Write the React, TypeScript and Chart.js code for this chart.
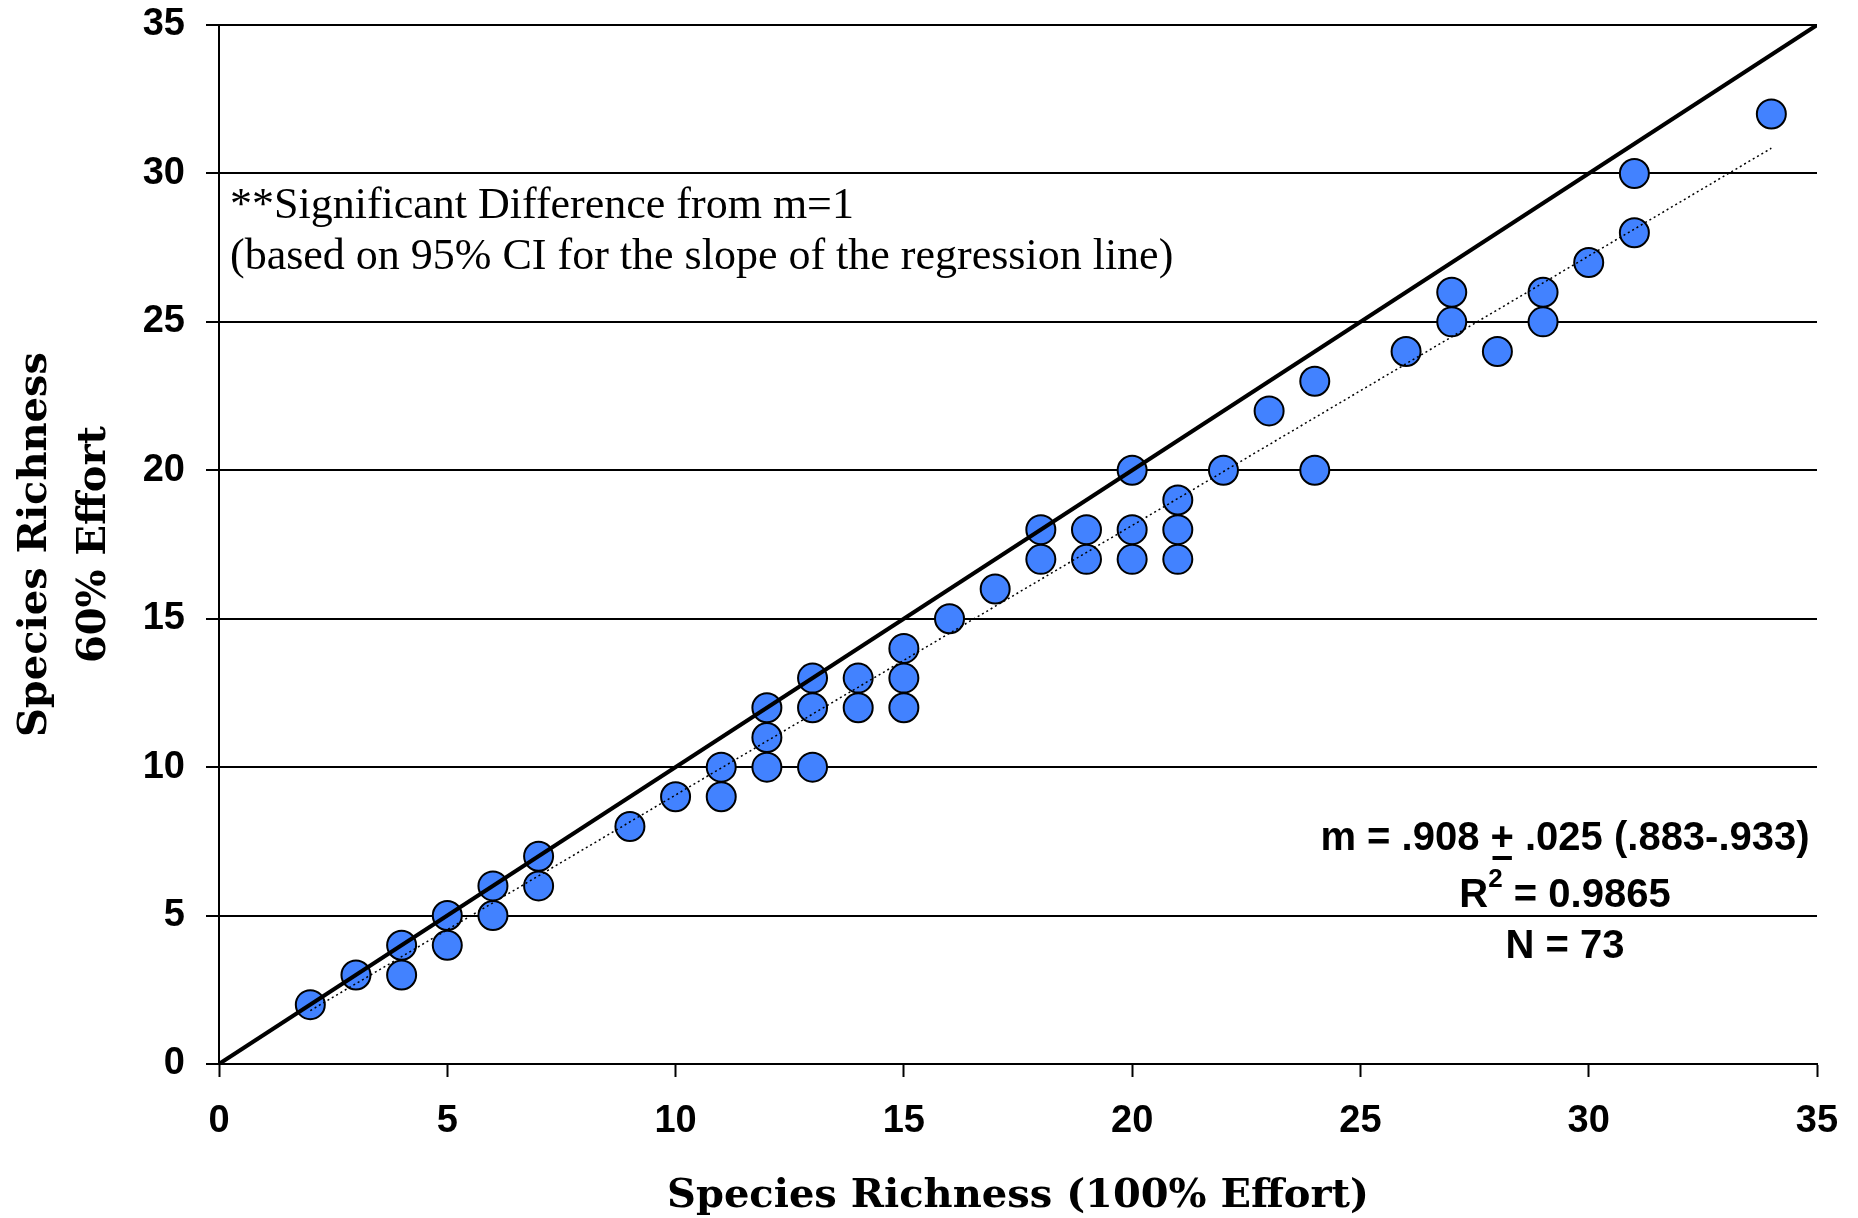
import React, { useEffect, useRef } from 'react';
import { Chart, registerables } from 'chart.js';

Chart.register(...registerables);

// Species richness at 100% effort (x) and 60% effort (y)
const richness100 = [2, 3, 4, 4, 5, 5, 6, 6, 7, 7, 9, 10, 11, 11, 12, 12, 12, 13, 13, 13, 14, 14, 15, 15, 15, 16, 17, 18, 18, 19, 19, 20, 20, 20, 21, 21, 21, 22, 23, 24, 24, 26, 27, 27, 28, 29, 29, 30, 31, 31, 34];
const richness60 = [2, 3, 4, 3, 5, 4, 6, 5, 7, 6, 8, 9, 10, 9, 12, 11, 10, 13, 12, 10, 13, 12, 14, 13, 12, 15, 16, 18, 17, 18, 17, 20, 18, 17, 19, 18, 17, 20, 22, 23, 20, 24, 26, 25, 24, 26, 25, 27, 30, 28, 32];

// 1:1 reference line
const identityX = [0, 35];
const identityY = [0, 35];

// Regression line endpoints
const regressionX = [2, 34];
const regressionY = [1.8, 30.85];

const axisMin = 0;
const axisMax = 35;
const tickStep = 5;

const xTitle = 'Species Richness (100% Effort)';
const yTitle = ['Species Richness', '60% Effort'];
const noteLines = ['**Significant Difference from m=1', '(based on 95% CI for the slope of the regression line)'];
const slopeParts = ['m = .908 ', '+', ' .025 (.883-.933)'];
const r2Parts = ['R', '2', ' = 0.9865'];
const nLine = 'N = 73';

const SANS = "'Liberation Sans', Arial, sans-serif";
const SERIF = "'Liberation Serif', 'Times New Roman', serif";
const SERIF_BOLD = "'DejaVu Serif', serif";

const annotationPlugin = {
  id: 'textAnnotations',
  afterDatasetsDraw(chart: any) {
    const { ctx, chartArea } = chart;
    ctx.save();
    ctx.fillStyle = '#000';
    ctx.strokeStyle = '#000';
    ctx.textBaseline = 'alphabetic';
    ctx.textAlign = 'left';

    // Note lines (top-left)
    ctx.font = `44px ${SERIF}`;
    const nx = chartArea.left + 11;
    ctx.fillText(noteLines[0], nx, 218);
    ctx.fillText(noteLines[1], nx, 269);

    // Stats block (bottom-right), centred on a common x
    const cx = 1565;
    ctx.font = `bold 40px ${SANS}`;
    const w0 = ctx.measureText(slopeParts[0]).width;
    const w1 = ctx.measureText(slopeParts[1]).width;
    const w2 = ctx.measureText(slopeParts[2]).width;
    const sx = cx - (w0 + w1 + w2) / 2;
    const b1 = 850;
    ctx.fillText(slopeParts[0], sx, b1);
    ctx.fillText(slopeParts[1], sx + w0, b1);
    ctx.fillRect(sx + w0 + 2, b1 + 6, w1 - 4, 4);
    ctx.fillText(slopeParts[2], sx + w0 + w1, b1);

    // R^2 line
    const b2 = 907;
    ctx.font = `bold 40px ${SANS}`;
    const rw = ctx.measureText(r2Parts[0]).width;
    const tw = ctx.measureText(r2Parts[2]).width;
    ctx.font = `bold 26px ${SANS}`;
    const supW = ctx.measureText(r2Parts[1]).width;
    const rx = cx - (rw + supW + tw) / 2;
    ctx.font = `bold 40px ${SANS}`;
    ctx.fillText(r2Parts[0], rx, b2);
    ctx.font = `bold 26px ${SANS}`;
    ctx.fillText(r2Parts[1], rx + rw, b2 - 20);
    ctx.font = `bold 40px ${SANS}`;
    ctx.fillText(r2Parts[2], rx + rw + supW, b2);

    // N line
    ctx.textAlign = 'center';
    ctx.fillText(nLine, cx, 958);
    ctx.restore();
  },
};

export default function App() {
  const canvasRef = useRef<HTMLCanvasElement | null>(null);

  useEffect(() => {
    const canvas = canvasRef.current;
    if (!canvas) return;

    const points = richness100.map((x, i) => ({ x, y: richness60[i] }));
    const identity = identityX.map((x, i) => ({ x, y: identityY[i] }));
    const regression = regressionX.map((x, i) => ({ x, y: regressionY[i] }));

    const tickFont = { family: SANS, size: 38, weight: 'bold' as const };

    const chart = new Chart(canvas, {
      type: 'scatter',
      data: {
        datasets: [
          {
            label: '1:1',
            data: identity,
            showLine: true,
            borderColor: '#000',
            borderWidth: 4,
            pointRadius: 0,
            pointHoverRadius: 0,
            order: 1,
          },
          {
            label: 'Regression',
            data: regression,
            showLine: true,
            borderColor: '#000',
            borderWidth: 1.5,
            borderDash: [2, 3],
            pointRadius: 0,
            pointHoverRadius: 0,
            order: 2,
          },
          {
            label: 'Sites',
            data: points,
            showLine: false,
            pointRadius: 14.5,
            pointHoverRadius: 14.5,
            pointBackgroundColor: '#4282ff',
            pointBorderColor: '#000',
            pointBorderWidth: 2,
            order: 3,
          },
        ],
      },
      options: {
        responsive: false,
        animation: false,
        devicePixelRatio: 1,
        layout: { padding: { top: 25, right: 41, bottom: 0, left: 0 } },
        plugins: {
          legend: { display: false },
          tooltip: { enabled: false },
        },
        scales: {
          x: {
            type: 'linear',
            min: axisMin,
            max: axisMax,
            ticks: { stepSize: tickStep, font: tickFont, color: '#000', padding: 22 },
            grid: {
              drawOnChartArea: false,
              drawTicks: true,
              tickLength: 13,
              tickColor: '#000',
              tickWidth: 2,
            },
            border: { display: true, color: '#000', width: 2 },
            title: {
              display: true,
              text: xTitle,
              color: '#000',
              font: { family: SERIF_BOLD, size: 40, weight: 'bold', lineHeight: 1.0 },
              padding: { top: 0, bottom: 1 },
            },
            afterFit: (scale: any) => {
              scale.height = 154;
              scale.paddingLeft = 0;
              scale.paddingRight = 0;
            },
          },
          y: {
            type: 'linear',
            min: axisMin,
            max: axisMax,
            ticks: { stepSize: tickStep, font: tickFont, color: '#000', padding: 21 },
            grid: {
              drawOnChartArea: true,
              color: '#000',
              lineWidth: 2,
              drawTicks: true,
              tickLength: 13,
              tickColor: '#000',
              tickWidth: 2,
            },
            border: { display: true, color: '#000', width: 2 },
            title: {
              display: true,
              text: yTitle,
              color: '#000',
              font: { family: SERIF_BOLD, size: 40, weight: 'bold', lineHeight: 1.475 },
              padding: { top: 6, bottom: 0 },
            },
            afterFit: (scale: any) => {
              scale.width = 219;
              scale.paddingTop = 0;
              scale.paddingBottom = 0;
            },
          },
        },
      },
      plugins: [annotationPlugin],
    });

    return () => chart.destroy();
  }, []);

  return (
    <div style={{ position: 'fixed', left: 0, top: 0, width: 1858, height: 1218, background: '#fff' }}>
      <canvas ref={canvasRef} width={1858} height={1218} style={{ display: 'block' }} />
    </div>
  );
}
